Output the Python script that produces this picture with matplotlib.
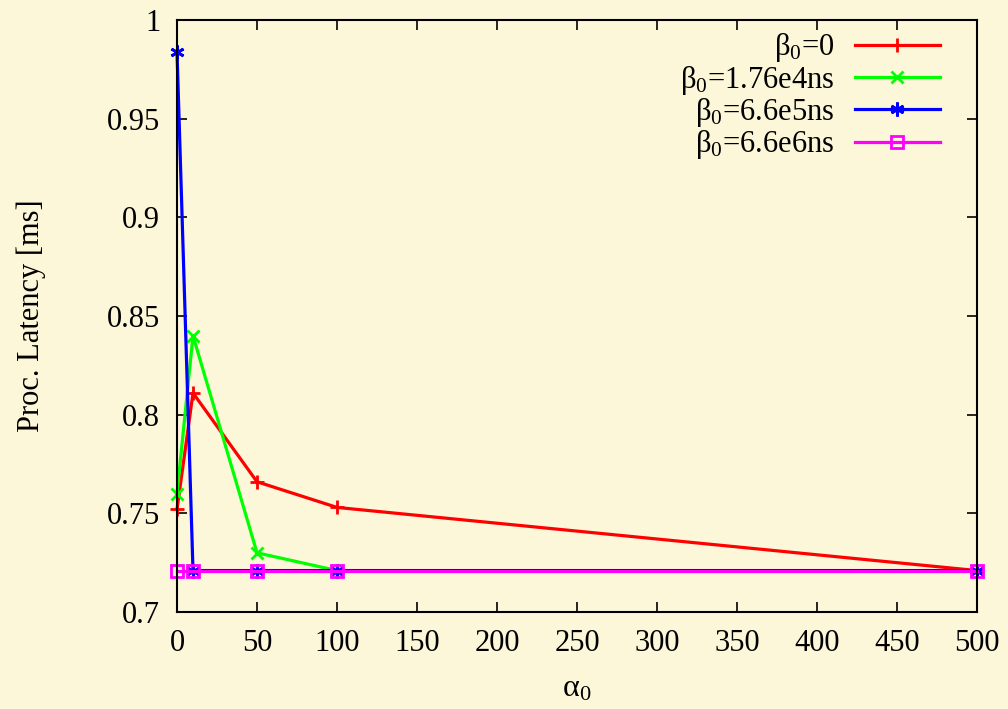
import matplotlib
matplotlib.use("Agg")
import matplotlib.pyplot as plt
from matplotlib.ticker import FormatStrFormatter

plt.rcParams['font.family'] = ['Liberation Serif', 'DejaVu Serif']
plt.rcParams['mathtext.fontset'] = 'custom'
plt.rcParams['mathtext.rm'] = 'Liberation Serif'
plt.rcParams['mathtext.it'] = 'Liberation Serif'

BG = '#fdf7da'

x_red = [0, 10, 50, 100, 500]
y_red = [0.752, 0.811, 0.766, 0.753, 0.721]
x_green = [0, 10, 50, 100]
y_green = [0.760, 0.840, 0.730, 0.721]
x_blue = [0, 10, 50, 100, 500]
y_blue = [0.984, 0.721, 0.721, 0.721, 0.721]
x_mag = [0, 10, 50, 100, 500]
y_mag = [0.721, 0.721, 0.721, 0.721, 0.721]

labels = ['β$_0$=0', 'β$_0$=1.76e4ns', 'β$_0$=6.6e5ns', 'β$_0$=6.6e6ns']
xticks = [0, 50, 100, 150, 200, 250, 300, 350, 400, 450, 500]
yticks = [0.7, 0.75, 0.8, 0.85, 0.9, 0.95, 1.0]

fig = plt.figure(figsize=(10.08, 7.09), dpi=100, facecolor=BG)
ax = fig.add_axes([0.1756, 0.1368, 0.7936, 0.835], facecolor=BG)

lw = 2.3
kw = dict(lw=lw, clip_on=False)
ax.plot(x_red, y_red, color='#ff0000', marker='+', ms=10, mew=2, label=labels[0], **kw)
ax.plot(x_green, y_green, color='#00ff00', marker='x', ms=9, mew=2, label=labels[1], **kw)
ax.plot(x_blue, y_blue, color='#0000ff', marker=(6, 2, 0), ms=10, mew=2, label=labels[2], **kw)
ax.plot(x_mag, y_mag, color='#ff00ff', marker='s', ms=9, mew=2, mfc='none', label=labels[3], **kw)

ax.set_xlim(0, 500)
ax.set_ylim(0.7, 1.0)
ax.set_xticks(xticks)
ax.set_yticks(yticks)
ax.yaxis.set_major_formatter(FormatStrFormatter('%g'))
ax.tick_params(direction='in', length=7, width=1.2, top=True, right=True,
               labelsize=22, colors='black')
ax.tick_params(axis='y', pad=12)
ax.tick_params(axis='x', pad=12)
for s in ax.spines.values():
    s.set_linewidth(1.5)

ax.set_xlabel('α$_0$', fontsize=23, labelpad=12)
ax.set_ylabel('Proc. Latency [ms]', fontsize=22, labelpad=44)

leg = ax.legend(loc='upper right', frameon=False, markerfirst=False, fontsize=22,
                handlelength=2.8, handletextpad=0.65, labelspacing=-0.02,
                borderaxespad=0, borderpad=0, bbox_to_anchor=(0.954, 0.981))
for t in leg.get_texts():
    t.set_ha('right')
leg._legend_box.align = 'right'

fig.savefig('out.png', dpi=100, facecolor=BG)
